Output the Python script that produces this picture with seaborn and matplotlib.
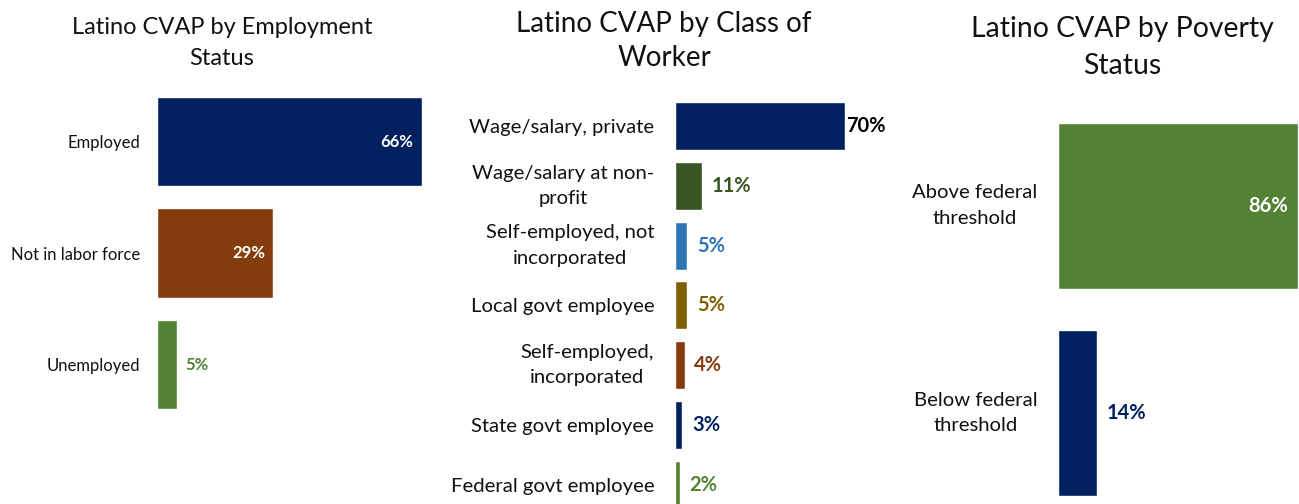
import matplotlib
matplotlib.use("Agg")
import matplotlib.pyplot as plt
import seaborn as sns

# Data
emp_cats = ["Employed", "Not in labor force", "Unemployed"]
emp_vals = [66, 29, 5]
emp_colors = ["#002060", "#843C0C", "#548235"]

cow_cats = ["Wage/salary, private", "Wage/salary at non-\nprofit",
            "Self-employed, not\nincorporated", "Local govt employee",
            "Self-employed,\nincorporated", "State govt employee",
            "Federal govt employee"]
cow_vals = [70, 11, 5, 5, 4, 3, 2]
cow_colors = ["#002060", "#375623", "#2E75B6", "#7F6000",
              "#843C0C", "#002060", "#548235"]

pov_cats = ["Above federal\nthreshold", "Below federal\nthreshold"]
pov_vals = [86, 14]
pov_colors = ["#548235", "#002060"]

sns.set_theme(style="white")
plt.rcParams["font.family"] = ["Lato", "DejaVu Sans"]

W, H = 1299, 504
fig = plt.figure(figsize=(W / 100, H / 100), dpi=100)


def px_axes(left, top, width, height):
    return fig.add_axes([left / W, 1 - (top + height) / H, width / W, height / H])


def panel(ax, cats, vals, colors, xmax, tick_size, tick_pad, val_size,
          inside, label_colors, gaps):
    sns.barplot(x=vals, y=cats, hue=cats, palette=colors, orient="h",
                width=0.8, saturation=1, legend=False, ax=ax)
    ax.set_xlim(0, xmax)
    ax.set_xlabel("")
    ax.set_ylabel("")
    ax.set_xticks([])
    sns.despine(ax=ax, left=True, bottom=True)
    ax.tick_params(axis="y", length=0, pad=tick_pad, labelsize=tick_size,
                   labelcolor="#111111")
    for lbl in ax.get_yticklabels():
        lbl.set_multialignment("center")
        lbl.set_linespacing(1.6)
        if "\n" in lbl.get_text():
            lbl.set_verticalalignment("center")
    # value labels, white inside the long bars, coloured beside the short ones
    for i, v in enumerate(vals):
        if inside[i]:
            ax.annotate(f"{v}%", xy=(v, i), xytext=(-gaps[i], 0),
                        textcoords="offset points", ha="right", va="center",
                        fontsize=val_size, fontweight="bold", color="white")
        else:
            ax.annotate(f"{v}%", xy=(v, i), xytext=(gaps[i], 0),
                        textcoords="offset points", ha="left", va="center",
                        fontsize=val_size, fontweight="bold",
                        color=label_colors[i])


ax1 = px_axes(157, 85.75, 301, 334.5)
panel(ax1, emp_cats, emp_vals, emp_colors, 75, 12, 12, 12,
      [True, True, False], emp_colors, [6, 6, 6])

ax2 = px_axes(675, 96.1, 194.4, 418.6)
panel(ax2, cow_cats, cow_vals, cow_colors, 80, 14.6, 15, 14.5,
      [False] * 7, ["#000000"] + cow_colors[1:], [0.5, 7, 7, 7, 7, 7, 7])

ax3 = px_axes(1058, 101.75, 240, 415)
panel(ax3, pov_cats, pov_vals, pov_colors, 86, 14.6, 15, 14.5,
      [True, False], pov_colors, [7, 7])

# Titles
fig.text(222 / W, 1 - 43 / H, "Latino CVAP by Employment\nStatus",
         ha="center", va="center", fontsize=17, color="#111111",
         linespacing=1.55)
fig.text(664 / W, 1 - 41 / H, "Latino CVAP by Class of\nWorker",
         ha="center", va="center", fontsize=20, color="#111111",
         linespacing=1.4)
fig.text(1122 / W, 1 - 47.5 / H, "Latino CVAP by Poverty\nStatus",
         ha="center", va="center", fontsize=20.4, color="#111111",
         linespacing=1.55)

fig.savefig("out.png", dpi=100, facecolor="white")
